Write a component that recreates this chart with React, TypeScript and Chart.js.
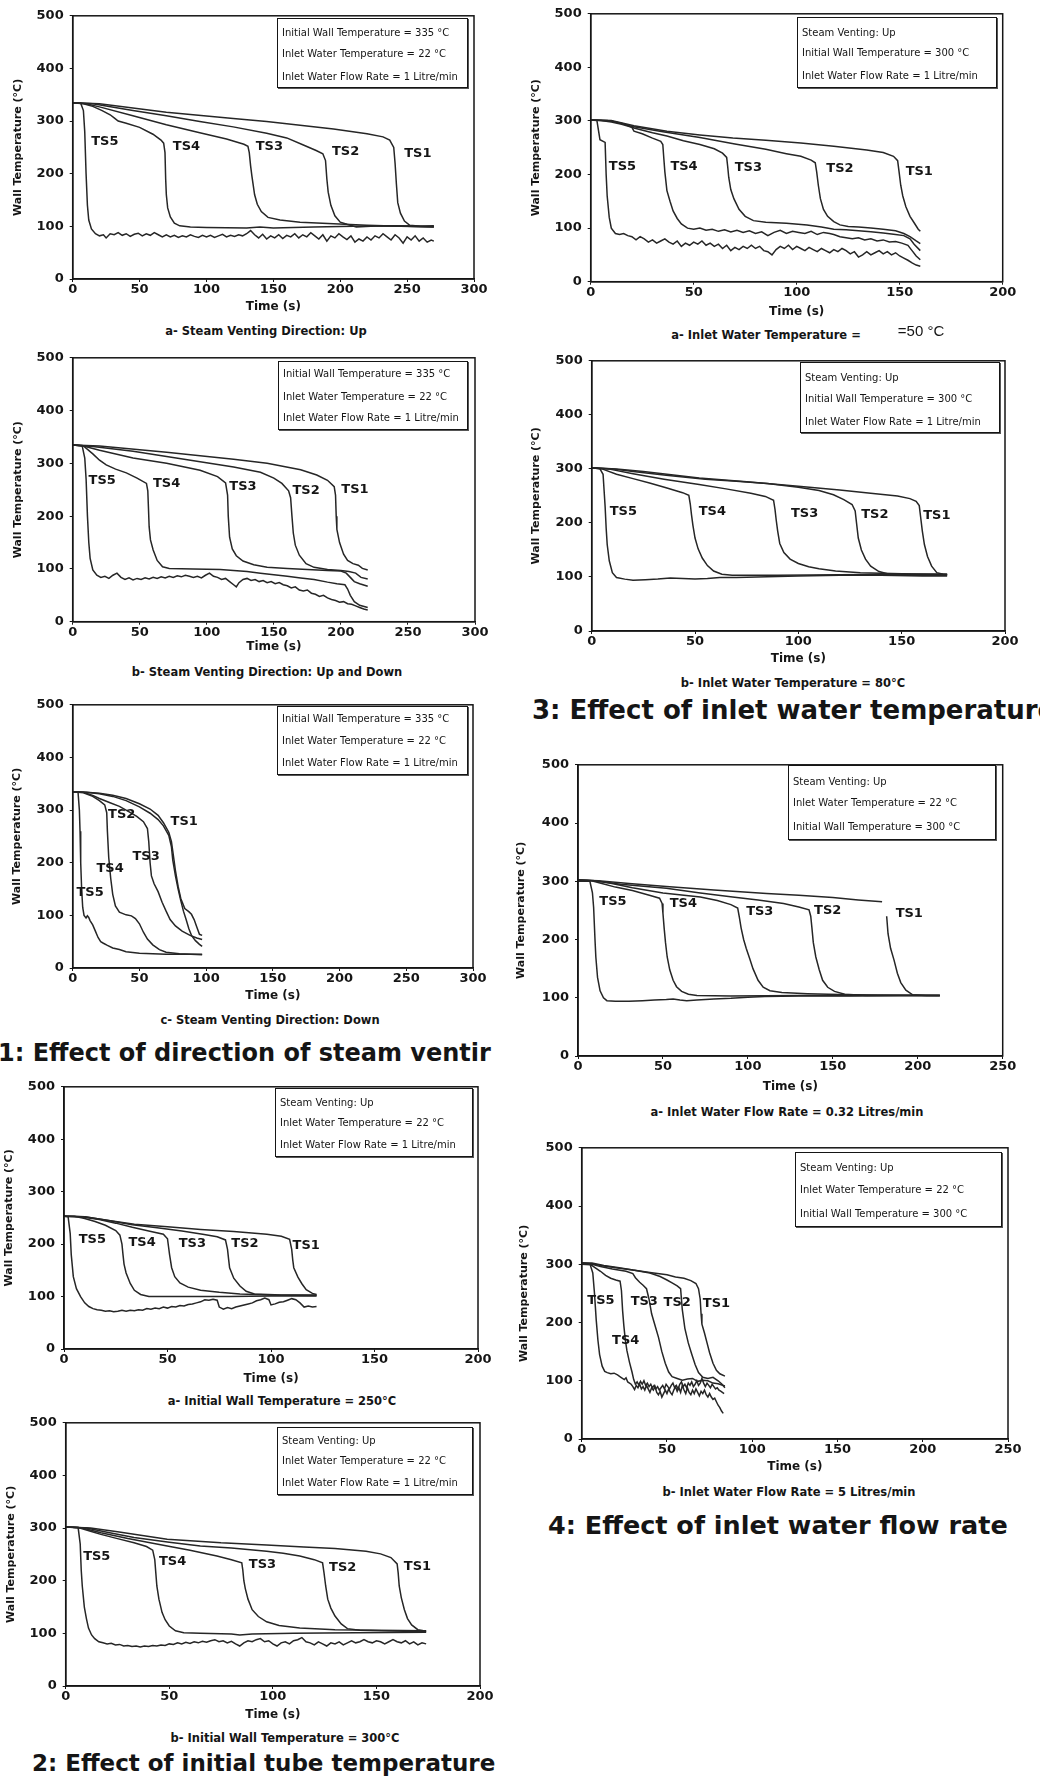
import React, { useEffect, useRef } from "react";
import { Chart, registerables } from "chart.js";

Chart.register(...registerables);

type Pt = [number, number | null];
type Label = [string, number, number];

const Y_TICKS = [0, 100, 200, 300, 400, 500];

// ---------- Fig. 1a  steam venting up ----------
const f1a_ts1: Pt[] = [[0,335],[20,333],[70,317],[120,305],[145,299],[195,285],[220,276],[232,270],[237,264],[240,250],[241,220],[242,180],[243,145],[245,125],[248,110],[252,102],[260,100],[270,101]];
const f1a_ts2: Pt[] = [[0,335],[15,333],[45,320],[70,310],[95,299],[120,289],[145,277],[160,268],[172,255],[182,244],[187,238],[189,225],[190,190],[191,165],[193,140],[196,120],[200,108],[205,104],[212,99],[230,101],[250,100],[270,99]];
const f1a_ts3: Pt[] = [[0,335],[10,333],[20,327],[45,310],[70,293],[95,278],[115,266],[128,256],[131,252],[132,240],[133,215],[134,195],[136,160],[138,142],[141,128],[146,117],[155,112],[170,108],[195,105],[220,102],[245,100],[270,99]];
const f1a_ts4: Pt[] = [[0,335],[8,333],[15,328],[22,320],[28,312],[31,306],[34,300],[40,296],[50,288],[60,275],[66,264],[68,258],[69,240],[69.5,190],[70,160],[71,135],[73,118],[76,106],[80,101],[88,99],[100,98],[130,97],[140,99],[150,97],[180,99],[210,100],[240,101],[270,100]];
const f1a_ts5: Pt[] = [[0,335],[6,334],[8,320],[9,280],[10,200],[11,140],[12,112],[14,95],[17,86],[20,82],[23,84],[25,78],[28,86],[31,84],[34,88],[37,83],[40,86],[43,81],[46,85],[49,87],[52,82],[55,86],[58,83],[61,88],[64,84],[67,80],[70,84],[73,80],[76,83],[79,79],[82,82],[85,80],[88,84],[91,81],[94,79],[97,83],[100,80],[103,83],[106,79],[109,82],[112,85],[115,80],[118,83],[121,81],[124,84],[127,82],[130,86],[133,92],[136,84],[139,78],[142,85],[145,76],[148,82],[151,78],[154,84],[157,77],[160,83],[163,80],[166,86],[169,78],[172,84],[175,80],[178,88],[181,82],[184,76],[187,84],[190,72],[193,82],[196,78],[199,86],[202,80],[205,75],[208,82],[211,70],[214,76],[217,72],[220,80],[223,74],[226,82],[229,78],[232,86],[235,80],[238,74],[241,84],[244,78],[247,68],[250,80],[253,74],[256,82],[259,72],[262,78],[265,70],[268,74],[270,72]];
const f1a_labels: Label[] = [["TS5",24,261],["TS4",85,251],["TS3",147,251],["TS2",204,242],["TS1",258,239]];

// ---------- Fig. 1b  steam venting up and down ----------
const f1b_ts1: Pt[] = [[0,335],[20,333],[70,321],[120,308],[145,300],[170,288],[182,278],[190,268],[195,256],[196,240],[196.5,200],[197,175],[199,150],[202,128],[205,116],[209,110],[213,107],[216,101],[220,98]];
const f1b_ts2: Pt[] = [[0,335],[15,332],[45,323],[70,313],[95,303],[120,293],[140,283],[150,272],[156,262],[161,248],[162.5,235],[163.5,200],[164.5,168],[166,145],[169,126],[174,110],[180,103],[190,99],[200,97],[206,95],[211,92],[215,84],[220,81]];
const f1b_ts3: Pt[] = [[0,335],[8,333],[20,325],[45,310],[70,300],[95,287],[108,275],[114,263],[115.5,240],[116,200],[117,160],[119,138],[122,125],[127,115],[135,108],[145,103],[160,101],[175,99],[190,97],[200,96],[204,92],[207,84],[210,76],[214,72],[220,67]];
const f1b_ts4: Pt[] = [[0,335],[8,333],[15,318],[20,306],[25,297],[32,289],[40,282],[48,272],[55,262],[56,248],[56.5,215],[57,180],[58,155],[60,136],[63,116],[67,104],[72,101],[90,100],[110,99],[120,97],[130,95],[140,92],[150,89],[160,86],[170,83],[180,80],[190,75],[197,72],[203,70],[205,62],[207,50],[210,38],[214,31],[220,27]];
const f1b_ts5: Pt[] = [[0,335],[7,334],[9,310],[10,270],[11,200],[12,150],[13,120],[15,98],[18,88],[21,84],[24,86],[27,82],[30,88],[33,92],[36,84],[39,80],[42,83],[45,79],[48,82],[51,80],[54,83],[57,81],[60,84],[63,82],[66,85],[69,83],[72,86],[75,84],[78,87],[81,85],[84,88],[87,86],[90,84],[93,86],[96,83],[99,88],[102,92],[105,86],[108,84],[111,80],[114,82],[117,76],[120,70],[122,66],[124,74],[127,80],[130,82],[133,78],[136,80],[139,76],[142,78],[145,74],[148,76],[151,72],[154,74],[157,70],[160,68],[163,64],[166,66],[169,60],[172,58],[175,60],[178,54],[181,52],[184,48],[187,50],[190,45],[193,42],[196,40],[199,37],[202,38],[205,34],[208,33],[211,30],[214,27],[217,24],[220,22]];
const f1b_labels: Label[] = [["TS5",22,267],["TS4",70,261],["TS3",127,255],["TS2",174,248],["TS1",210.5,250]];

// ---------- Fig. 1c  steam venting down ----------
const f1c_ts1: Pt[] = [[0,335],[10,334],[20,332],[30,328],[40,322],[50,312],[58,302],[64,290],[68,276],[72,258],[74,240],[75,222],[77,185],[79,155],[81,132],[84,113],[87,107],[89,102],[91,92],[93,78],[95,64],[97,62]];
const f1c_ts2: Pt[] = [[0,335],[10,334],[20,331],[30,326],[40,318],[50,306],[58,294],[64,282],[68,270],[72,252],[74,230],[75,205],[77,175],[79,150],[81,128],[83,108],[85,92],[87,75],[89,62],[92,52],[95,45],[97,41]];
const f1c_ts3: Pt[] = [[0,335],[8,334],[15,328],[20,322],[28,314],[35,307],[42,297],[48,288],[53,278],[56,265],[57,240],[58,200],[59,175],[61,160],[64,145],[67,125],[70,108],[73,92],[77,80],[82,70],[88,62],[93,57],[97,54]];
const f1c_ts4: Pt[] = [[0,335],[8,333],[15,326],[20,318],[24,310],[25.5,295],[26,260],[27,210],[28.5,170],[30,140],[32,118],[35,106],[40,101],[44,99],[47,94],[50,84],[53,68],[56,55],[60,44],[65,35],[70,30],[80,27],[97,25]];
const f1c_ts5: Pt[] = [[0,335],[4,334],[5,300],[5.5,260],[6,200],[6.7,150],[7.5,115],[8.5,100],[10,95],[11,99],[12,96],[13,90],[15,82],[17,70],[19,58],[21,50],[23,47],[26,43],[30,38],[35,35],[40,31],[50,28],[60,27],[70,26],[85,26],[97,26]];
const f1c_labels: Label[] = [["TS2",36.7,292],["TS1",83.6,278],["TS3",55,212],["TS4",28,188],["TS5",13,144]];

// ---------- Fig. 2a  initial wall temperature 250 ----------
const f2a_ts1: Pt[] = [[0,253],[10,252],[20,246],[34,238],[50,233],[66,228],[82,224],[98,219],[105,215],[109,209],[110,190],[110.5,170],[111,155],[113,137],[115,124],[117,113],[120,106],[122,104]];
const f2a_ts2: Pt[] = [[0,253],[10,252],[20,246],[33,237],[45,231],[57,225],[67,219],[74,214],[78,208],[79,190],[79.5,172],[80,155],[82,135],[85,120],[88,110],[92,105],[105,103],[122,103]];
const f2a_ts3: Pt[] = [[0,253],[8,252],[17,247],[25,240],[33,232],[42,224],[48,219],[50,210],[50.5,195],[51,180],[52,155],[53.5,138],[56,126],[60,118],[66,112],[75,108],[85,105],[100,103],[122,102]];
const f2a_ts4: Pt[] = [[0,253],[5,253],[10,249],[15,243],[20,236],[25,226],[27,217],[28,200],[28.5,180],[29,162],[30,145],[32,125],[34,112],[37,104],[41,100],[60,100],[80,100],[100,101],[122,101]];
const f2a_ts5: Pt[] = [[0,253],[2,252],[3,220],[3.5,180],[4.5,138],[6,115],[8,100],[10,88],[12,81],[14,77],[16,75],[18,74],[20,72],[22,73],[24,71],[26,72],[28,74],[30,72],[32,74],[34,73],[36,75],[38,74],[40,77],[42,76],[44,78],[46,77],[48,80],[50,78],[52,81],[54,80],[56,83],[58,82],[60,85],[62,86],[64,88],[66,90],[68,94],[70,93],[72,95],[74,93],[75,80],[77,76],[79,79],[81,77],[83,80],[85,82],[87,84],[89,86],[91,88],[93,92],[95,94],[97,97],[99,94],[100,84],[102,86],[104,89],[106,90],[108,93],[110,96],[112,94],[114,88],[116,80],[118,82],[120,80],[122,81]];
const f2a_labels: Label[] = [["TS5",13.7,209],["TS4",37.7,203],["TS3",62,200],["TS2",87.4,200],["TS1",117,197]];

// ---------- Fig. 2b  initial wall temperature 300 ----------
const f2b_ts1: Pt[] = [[0,302],[12,300],[25,293],[49,279],[75,272],[97,268],[115,264],[130,261],[145,256],[152,251],[157,244],[160,232],[160.5,215],[161,190],[162,168],[163.5,145],[165,128],[167,116],[170,107],[174,104]];
const f2b_ts2: Pt[] = [[0,302],[10,300],[20,292],[33,282],[50,273],[65,266],[80,262],[97,256],[105,252],[113,247],[120,240],[124,234],[124.7,215],[125.5,190],[126.5,165],[128,148],[130,133],[133,118],[136,109],[142,106],[174,103]];
const f2b_ts3: Pt[] = [[0,302],[8,300],[17,291],[30,280],[49,266],[60,258],[73,247],[80,240],[85,234],[85.5,220],[86,200],[86.7,185],[88,165],[90,145],[93,132],[97,122],[103,115],[113,110],[130,107],[150,106],[174,105]];
const f2b_ts4: Pt[] = [[0,302],[6,301],[12,294],[17,288],[25,280],[33,272],[39,265],[42,258],[43,240],[43.5,215],[44,190],[45,165],[46.5,140],[48,126],[50,114],[53,105],[57,101],[65,100],[80,99],[84,97],[90,99],[110,100],[140,101],[174,102]];
const f2b_ts5: Pt[] = [[0,302],[6,301],[7,270],[7.5,220],[8,190],[9,150],[10,128],[11,110],[12.5,97],[14,90],[16,84],[18,82],[20,80],[22,81],[24,78],[26,79],[28,76],[30,77],[32,75],[34,76],[36,74],[38,76],[40,75],[42,77],[44,76],[46,78],[48,77],[50,80],[52,79],[54,82],[56,80],[58,83],[60,81],[62,84],[64,82],[66,85],[68,83],[70,86],[72,88],[74,84],[76,86],[78,82],[80,85],[82,80],[84,76],[86,82],[88,86],[90,84],[92,88],[94,90],[96,84],[98,86],[100,80],[102,76],[104,82],[106,84],[108,80],[110,86],[112,88],[114,92],[116,84],[118,82],[120,78],[122,84],[124,80],[126,76],[128,82],[130,80],[132,84],[134,78],[136,82],[138,86],[140,82],[142,84],[144,88],[146,84],[148,82],[150,86],[152,84],[154,80],[156,84],[158,88],[160,84],[162,82],[164,86],[166,80],[168,84],[170,78],[172,82],[174,80]];
const f2b_labels: Label[] = [["TS5",15,246],["TS4",51.6,237],["TS3",95,230.5],["TS2",133.7,224],["TS1",169.8,226]];

// ---------- Fig. 3a  inlet water temperature 50 ----------
const f3a_ts1: Pt[] = [[0,302],[10,301],[21,291],[37,281],[53,274],[69,268],[85,264],[102,259],[118,253],[134,246],[142,241],[147,234],[149,226],[149.7,205],[150.5,180],[151.5,160],[153,140],[155,122],[157,110],[159,98],[160,94]];
const f3a_ts2: Pt[] = [[0,302],[10,300],[21,289],[35,280],[53,269],[70,257],[85,247],[95,239],[102,234],[107,227],[109,222],[109.7,205],[110.5,180],[111.5,155],[113,135],[115,122],[118,112],[121,106],[125,103],[130,102],[136,100],[142,98],[148,95],[152,90],[155,84],[158,76],[160,71]];
const f3a_ts3: Pt[] = [[0,302],[8,301],[15,296],[21,287],[30,278],[37,272],[45,263],[53,256],[60,248],[64,240],[66,232],[66.5,215],[67,195],[68,172],[69.5,155],[72,135],[75,122],[79,114],[85,111],[95,109],[105,106],[112,102],[118,98],[124,97],[130,95],[136,93],[142,91],[148,88],[152,86],[155,80],[157,70],[160,58]];
const f3a_ts4: Pt[] = [[0,302],[5,301],[10,298],[15,294],[20,288],[21,281],[25,276],[30,268],[34,262],[35,256],[35.5,230],[36,205],[37,170],[38.5,150],[40,132],[42,118],[44,108],[47,100],[50,98],[53,100],[56,96],[59,98],[62,94],[65,97],[68,93],[71,96],[74,92],[77,95],[80,90],[83,93],[86,86],[89,92],[92,96],[95,90],[98,94],[101,92],[104,90],[107,94],[110,88],[113,92],[116,90],[118,88],[121,84],[124,82],[127,80],[130,82],[133,78],[136,80],[139,76],[142,78],[145,74],[148,75],[151,72],[154,68],[156,58],[158,48],[160,41]];
const f3a_ts5: Pt[] = [[0,302],[3,301],[4.5,265],[7,260],[7.5,200],[8,160],[9,120],[10,100],[12,90],[14,88],[16,90],[18,86],[20,84],[22,78],[24,84],[26,80],[28,74],[30,78],[32,72],[34,76],[36,80],[38,74],[40,70],[42,76],[44,66],[46,72],[48,68],[50,74],[52,70],[54,76],[56,68],[58,72],[60,66],[62,70],[64,62],[66,68],[68,58],[70,64],[72,60],[74,66],[76,62],[78,68],[80,62],[82,66],[84,58],[86,56],[88,50],[90,60],[92,66],[94,62],[96,68],[98,60],[100,66],[102,62],[104,58],[106,64],[108,60],[110,56],[112,62],[114,58],[116,54],[118,60],[120,56],[122,62],[124,58],[126,52],[128,56],[130,46],[132,50],[134,56],[136,50],[138,54],[140,58],[142,52],[144,56],[146,50],[148,54],[150,48],[152,44],[154,40],[156,35],[158,31],[160,29]];
const f3a_labels: Label[] = [["TS5",15.4,215],["TS4",45.3,214],["TS3",76.5,213],["TS2",121,211],["TS1",159.5,205]];

// ---------- Fig. 3b  inlet water temperature 80 ----------
const f3b_ts1: Pt[] = [[0,302],[12,300],[25,295],[52,283],[75,276],[100,268],[120,261],[135,255],[148,250],[154,245],[157,240],[158.5,232],[159.2,210],[160,185],[161,160],[162.5,138],[164.5,120],[167,108],[170,105],[172,104]];
const f3b_ts2: Pt[] = [[0,302],[10,300],[20,295],[36,288],[55,281],[70,277],[85,273],[100,266],[110,260],[117,252],[122,243],[126,234],[127.5,222],[128,205],[129,172],[130.5,150],[132.5,133],[135,120],[139,110],[144,105],[155,103],[172,103]];
const f3b_ts3: Pt[] = [[0,302],[8,300],[20,291],[35,281],[52,271],[65,263],[77,255],[84,249],[88,242],[88.7,225],[89.3,205],[90,185],[91,162],[93,145],[96,133],[100,125],[105,119],[110,115],[118,111],[130,108],[150,106],[172,105]];
const f3b_ts4: Pt[] = [[0,302],[5,300],[12,290],[20,282],[28,274],[36,265],[44,256],[47,251],[47.7,235],[48.3,215],[49,195],[50,172],[51.5,152],[53.5,135],[56,121],[59,111],[63,105],[68,103],[90,103],[120,104],[150,105],[172,105]];
const f3b_ts5: Pt[] = [[0,302],[4,300],[5.5,290],[6,260],[6.5,230],[7,190],[7.5,160],[8.5,130],[10,108],[12,99],[16,96],[20,94],[26,95],[32,96],[38,98],[44,97],[50,96],[56,97],[62,99],[70,99],[80,100],[90,101],[100,102],[120,103],[140,103],[160,102],[172,102]];
const f3b_labels: Label[] = [["TS5",15.3,221],["TS4",58.4,221],["TS3",103,217],["TS2",137,215],["TS1",167,213]];

// ---------- Fig. 4a  inlet flow 0.32 l/min ----------
const f4a_ts1: Pt[] = [[0,302],[12,301],[30,296],[52,291],[80,285],[111,279],[130,276],[150,272],[165,268],[179,265],[180,null],[181.7,240],[182.5,210],[184,185],[186,165],[188,142],[190,126],[193,113],[197,105],[205,104],[213,104]];
const f4a_ts2: Pt[] = [[0,302],[10,301],[25,295],[52,288],[72,280],[91,273],[106,268],[121,262],[130,256],[136,251],[137,240],[137.7,220],[138.5,195],[140,170],[142,148],[144,130],[147,118],[151,111],[157,106],[170,104],[213,104]];
const f4a_ts3: Pt[] = [[0,302],[10,301],[20,296],[32,289],[50,280],[72,273],[82,267],[90,260],[94,254],[95,238],[96,220],[97.5,200],[99,185],[101,168],[103,150],[106,130],[109,118],[113,112],[120,109],[135,107],[160,105],[213,104]];
const f4a_ts4: Pt[] = [[0,302],[8,301],[13,297],[22,290],[32,284],[42,276],[48,271],[49.5,262],[50,245],[50.7,220],[51.5,195],[52.5,170],[54,148],[56,130],[58,119],[61,111],[65,106],[70,104],[90,103],[130,104],[213,104]];
const f4a_ts5: Pt[] = [[0,300],[7,300],[8.5,280],[9.2,255],[10,200],[10.5,170],[11.5,135],[13,112],[15,100],[17,95],[22,94],[30,94],[38,95],[45,96],[52,97],[56,98],[60,96],[64,95],[70,96],[80,98],[90,99],[100,101],[110,102],[130,103],[160,103],[190,104],[213,104]];
const f4a_labels: Label[] = [["TS5",20.6,265],["TS4",62,261],["TS3",107,248],["TS2",147,250],["TS1",195,245]];

// ---------- Fig. 4b  inlet flow 5 l/min ----------
const f4b_ts1: Pt[] = [[0,302],[6,302],[13,298],[22,294],[30,290],[40,286],[50,282],[55,278],[60,276],[64,272],[67,267],[68.5,258],[69.5,240],[70,215],[70.5,197],[72,182],[73.5,165],[75,148],[77,130],[79,118],[81,112],[84,108]];
const f4b_ts2: Pt[] = [[0,302],[6,301],[13,297],[22,293],[30,290],[40,285],[46,279],[50,273],[53,268],[56,263],[58,258],[58.5,240],[59,222],[60.5,190],[62.5,165],[64.5,146],[66.5,128],[68.5,114],[71,106],[74,104],[77,106],[80,100],[82,95],[84,88]];
const f4b_ts3: Pt[] = [[0,302],[5,301],[11,296],[18,292],[26,288],[30,284],[31.5,277],[34,269],[36,264],[38,258],[39.5,240],[41,215],[43,195],[45,175],[47,150],[49,130],[51,115],[53,107],[56,104],[59,101],[62,103],[65,104],[68,99],[71,101],[74,100],[77,96],[80,95],[84,91]];
const f4b_ts4: Pt[] = [[0,302],[5,300],[8,294],[11,288],[14,281],[17,276],[20,273],[22.5,271],[23.3,255],[24,220],[24.7,195],[25.5,172],[26.5,152],[28,132],[29.5,115],[30.5,102],[31.5,94],[32.5,98],[33.5,93],[34.5,99],[35.5,94],[36.5,100],[37.5,92],[38.5,96],[39.5,90],[40.5,94],[41.5,88],[42.5,92],[43.5,86],[44.5,90],[45.5,84],[46.5,88],[47.5,92],[48.5,86],[49.5,94],[50.5,90],[51.5,86],[52.5,92],[53.5,96],[54.5,88],[55.5,92],[56.5,86],[57.5,94],[58.5,98],[59.5,90],[60.5,94],[61.5,88],[62.5,96],[63.5,92],[64.5,98],[65.5,90],[66.5,94],[67.5,100],[68.5,92],[69.5,96],[70.5,104],[71.5,96],[72.5,90],[73.5,96],[74.5,92],[75.5,88],[76.5,94],[77.5,90],[78.5,86],[79.5,88],[80.5,84],[81.5,82],[82.5,80],[83.5,78]];
const f4b_ts5: Pt[] = [[0,300],[5,299],[6.5,285],[7.5,250],[8.5,205],[9.5,170],[10.5,145],[12,125],[13.5,116],[15,114],[17,112],[19,113],[21,110],[23,106],[25,102],[26,105],[27,98],[29,94],[30,90],[31,85],[32,92],[33,88],[34,94],[35,86],[36,90],[37,84],[38,92],[39,86],[40,80],[41,88],[42,84],[43,90],[44,80],[45,76],[46,82],[47,72],[48,78],[49,84],[50,78],[51,86],[52,80],[53,76],[54,84],[55,90],[56,82],[57,88],[58,80],[59,92],[60,84],[61,78],[62,88],[63,80],[64,76],[65,84],[66,78],[67,86],[68,80],[69,74],[70,82],[71,78],[72,84],[73,76],[74,72],[75,78],[76,72],[77,68],[78,70],[79,64],[80,58],[81,54],[82,48],[83,44]];
const f4b_labels: Label[] = [["TS5",11.3,238],["TS3",36.7,235.5],["TS2",56,234],["TS1",79,233],["TS4",25.8,169]];

// ---------- layout of the sheet ----------
interface PanelSpec {
  key: string;
  xMax: number;
  series: Pt[][];
  labels: Label[];
  plot: { l: number; t: number; r: number; b: number };
  yTitleX: number;
  timeY: number;
}

const PANELS: PanelSpec[] = [
  { key: "1a", xMax: 300, series: [f1a_ts1, f1a_ts2, f1a_ts3, f1a_ts4, f1a_ts5], labels: f1a_labels, plot: { l: 72.7, t: 12.7, r: 474, b: 279 }, yTitleX: 19, timeY: 307 },
  { key: "1b", xMax: 300, series: [f1b_ts1, f1b_ts2, f1b_ts3, f1b_ts4, f1b_ts5], labels: f1b_labels, plot: { l: 72.7, t: 355, r: 475, b: 621.7 }, yTitleX: 19, timeY: 647 },
  { key: "1c", xMax: 300, series: [f1c_ts1, f1c_ts2, f1c_ts3, f1c_ts4, f1c_ts5], labels: f1c_labels, plot: { l: 72.7, t: 701.7, r: 473, b: 968 }, yTitleX: 18, timeY: 996 },
  { key: "2a", xMax: 200, series: [f2a_ts1, f2a_ts2, f2a_ts3, f2a_ts4, f2a_ts5], labels: f2a_labels, plot: { l: 64, t: 1084, r: 478, b: 1349 }, yTitleX: 10, timeY: 1379 },
  { key: "2b", xMax: 200, series: [f2b_ts1, f2b_ts2, f2b_ts3, f2b_ts4, f2b_ts5], labels: f2b_labels, plot: { l: 65.7, t: 1420, r: 480, b: 1686 }, yTitleX: 12, timeY: 1715 },
  { key: "3a", xMax: 200, series: [f3a_ts1, f3a_ts2, f3a_ts3, f3a_ts4, f3a_ts5], labels: f3a_labels, plot: { l: 590.7, t: 10.7, r: 1002.7, b: 281.7 }, yTitleX: 537, timeY: 311.7 },
  { key: "3b", xMax: 200, series: [f3b_ts1, f3b_ts2, f3b_ts3, f3b_ts4, f3b_ts5], labels: f3b_labels, plot: { l: 591.7, t: 357.7, r: 1005, b: 631 }, yTitleX: 537, timeY: 659 },
  { key: "4a", xMax: 250, series: [f4a_ts1, f4a_ts2, f4a_ts3, f4a_ts4, f4a_ts5], labels: f4a_labels, plot: { l: 578, t: 761.7, r: 1002.7, b: 1056 }, yTitleX: 522, timeY: 1086.7 },
  { key: "4b", xMax: 250, series: [f4b_ts1, f4b_ts2, f4b_ts3, f4b_ts4, f4b_ts5], labels: f4b_labels, plot: { l: 581.7, t: 1145, r: 1008, b: 1439 }, yTitleX: 525, timeY: 1466.7 },
];

const LEGEND_335 = ["Initial Wall Temperature = 335 \u00B0C", "Inlet Water Temperature = 22 \u00B0C", "Inlet Water Flow Rate = 1 Litre/min"];
const LEGEND_VENT_FLOW = ["Steam Venting: Up", "Inlet Water Temperature = 22 \u00B0C", "Inlet Water Flow Rate = 1 Litre/min"];
const LEGEND_VENT_WALL = ["Steam Venting: Up", "Initial Wall Temperature = 300 \u00B0C", "Inlet Water Flow Rate = 1 Litre/min"];
const LEGEND_VENT_INLET = ["Steam Venting: Up", "Inlet Water Temperature = 22 \u00B0C", "Initial Wall Temperature = 300 \u00B0C"];

interface LegendBox { l: number; t: number; r: number; b: number; rows: number[]; lines: string[] }
const LEGENDS: LegendBox[] = [
  { l: 277, t: 18, r: 468, b: 88, rows: [33, 54, 77], lines: LEGEND_335 },
  { l: 278, t: 361, r: 468, b: 430, rows: [374, 397, 418], lines: LEGEND_335 },
  { l: 277, t: 706, r: 468, b: 775, rows: [719, 741, 763], lines: LEGEND_335 },
  { l: 275, t: 1088, r: 473, b: 1157, rows: [1103, 1123, 1145], lines: LEGEND_VENT_FLOW },
  { l: 277, t: 1427, r: 473, b: 1495, rows: [1441, 1461, 1483], lines: LEGEND_VENT_FLOW },
  { l: 797, t: 17, r: 997, b: 88, rows: [33, 53, 76], lines: LEGEND_VENT_WALL },
  { l: 800, t: 362, r: 1000, b: 433, rows: [378, 399, 422], lines: LEGEND_VENT_WALL },
  { l: 788, t: 765, r: 996, b: 840, rows: [782, 803, 827], lines: LEGEND_VENT_INLET },
  { l: 795, t: 1152, r: 1002, b: 1227, rows: [1168, 1190, 1214], lines: LEGEND_VENT_INLET },
];

const CAPTIONS: [string, number, number][] = [
  ["a- Steam Venting Direction: Up", 266, 331],
  ["b- Steam Venting Direction: Up and Down", 267, 672],
  ["c- Steam Venting Direction: Down", 270, 1020],
  ["a- Initial Wall Temperature = 250\u00B0C", 282, 1401],
  ["b- Initial Wall Temperature = 300\u00B0C", 285, 1738],
  ["a- Inlet Water Temperature =", 766, 335],
  ["b- Inlet Water Temperature = 80\u00B0C", 793, 683],
  ["a- Inlet Water Flow Rate = 0.32 Litres/min", 787, 1112],
  ["b- Inlet Water Flow Rate = 5 Litres/min", 789, 1492],
];

// text, left edge, vertical centre, font size
const HEADINGS: [string, number, number, number][] = [
  ["1: Effect of direction of steam ventir", -2, 1053, 24],
  ["2: Effect of initial tube temperature", 32, 1763, 23],
  ["3: Effect of inlet water temperature", 532, 710, 26],
  ["4: Effect of inlet water flow rate", 548, 1525, 25.5],
];

const INK = "#151515";
const LINE = "#262626";

const framePlugin = {
  id: "frame",
  afterDraw(chart: any) {
    const { ctx, chartArea } = chart;
    ctx.save();
    ctx.strokeStyle = INK;
    ctx.lineWidth = 1.5;
    ctx.strokeRect(chartArea.left, chartArea.top, chartArea.right - chartArea.left, chartArea.bottom - chartArea.top);
    ctx.restore();
  },
};

function labelPlugin(items: Label[]) {
  return {
    id: "tsLabels",
    afterDatasetsDraw(chart: any) {
      const { ctx, scales } = chart;
      ctx.save();
      ctx.font = 'bold 13px "DejaVu Sans"';
      ctx.fillStyle = INK;
      ctx.textAlign = "center";
      ctx.textBaseline = "middle";
      for (const [txt, x, y] of items) {
        ctx.fillText(txt, scales.x.getPixelForValue(x), scales.y.getPixelForValue(y));
      }
      ctx.restore();
    },
  };
}

function PanelChart({ p }: { p: PanelSpec }) {
  const ref = useRef<HTMLCanvasElement | null>(null);
  const cl = Math.round(p.yTitleX - 6.6);
  const ct = Math.max(0, Math.round(p.plot.t - 11));
  const cr = Math.round(p.plot.r + 24);
  const cb = Math.round(p.timeY + 7.2);
  const w = cr - cl;
  const h = cb - ct;

  useEffect(() => {
    const canvas = ref.current;
    if (!canvas) return;
    const yWidth = p.plot.l - cl;
    const xHeight = cb - p.plot.b;
    const tickFont = { family: "DejaVu Sans", weight: "bold" as const, size: 13 };
    const chart = new Chart(canvas, {
      type: "line",
      data: {
        datasets: p.series.map((s, i) => ({
          label: "TS" + (i + 1),
          data: s.map(([x, y]) => ({ x, y })),
          borderColor: LINE,
          borderWidth: 1.5,
          pointRadius: 0,
          tension: 0,
          fill: false,
          spanGaps: false,
        })),
      },
      options: {
        animation: false,
        responsive: false,
        maintainAspectRatio: false,
        events: [],
        layout: { padding: { left: 0, top: p.plot.t - ct, right: cr - p.plot.r, bottom: 0 } },
        plugins: { legend: { display: false }, tooltip: { enabled: false }, title: { display: false } },
        scales: {
          x: {
            type: "linear",
            min: 0,
            max: p.xMax,
            ticks: { stepSize: 50, autoSkip: false, maxRotation: 0, padding: 0, color: INK, font: tickFont },
            grid: { display: true, drawOnChartArea: false, tickLength: 3, color: INK },
            border: { display: true, color: INK, width: 1.5 },
            title: { display: true, text: "Time (s)", color: INK, padding: 0, font: { family: "DejaVu Sans", weight: "bold", size: 12 } },
            afterFit: (s: any) => { s.height = xHeight; },
          },
          y: {
            type: "linear",
            min: 0,
            max: 500,
            afterBuildTicks: (s: any) => { s.ticks = Y_TICKS.map((v) => ({ value: v })); },
            ticks: { padding: 6, color: INK, font: tickFont },
            grid: { display: true, drawOnChartArea: false, tickLength: 3, color: INK },
            border: { display: true, color: INK, width: 1.5 },
            title: { display: true, text: "Wall Temperature (\u00B0C)", color: INK, padding: 0, font: { family: "DejaVu Sans", weight: "bold", size: 11 } },
            afterFit: (s: any) => { s.width = yWidth; },
          },
        },
      } as any,
      plugins: [framePlugin, labelPlugin(p.labels)],
    });
    return () => chart.destroy();
  }, []);

  return (
    <canvas
      ref={ref}
      width={w}
      height={h}
      style={{ position: "absolute", left: cl, top: ct, width: w, height: h }}
    />
  );
}

export default function App() {
  return (
    <div
      style={{
        position: "absolute",
        left: 0,
        top: 0,
        width: 1040,
        height: 1779,
        overflow: "hidden",
        background: "#ffffff",
        color: INK,
      }}
    >
      {PANELS.map((p) => (
        <PanelChart key={p.key} p={p} />
      ))}
      {LEGENDS.map((lg, i) => (
        <div key={"lg" + i}>
          <div
            style={{
              position: "absolute",
              left: lg.l,
              top: lg.t,
              width: lg.r - lg.l,
              height: lg.b - lg.t,
              boxSizing: "border-box",
              border: "1.5px solid " + INK,
              boxShadow: "1px 1px 0 #555",
              background: "#fff",
            }}
          />
          {lg.lines.map((txt, j) => (
            <div
              key={j}
              style={{
                position: "absolute",
                left: lg.l + 5,
                top: lg.rows[j] - 7,
                height: 14,
                lineHeight: "14px",
                whiteSpace: "nowrap",
                fontFamily: '"DejaVu Sans", sans-serif',
                fontSize: "10px",
              }}
            >
              {txt}
            </div>
          ))}
        </div>
      ))}
      {CAPTIONS.map(([txt, x, y], i) => (
        <div
          key={"cap" + i}
          style={{
            position: "absolute",
            left: x,
            top: y,
            transform: "translate(-50%, -50%)",
            whiteSpace: "nowrap",
            fontFamily: '"DejaVu Sans", sans-serif',
            fontWeight: "bold",
            fontSize: "11.5px",
          }}
        >
          {txt}
        </div>
      ))}
      <div
        style={{
          position: "absolute",
          left: 921,
          top: 330,
          transform: "translate(-50%, -50%)",
          whiteSpace: "nowrap",
          fontFamily: '"Liberation Sans", Arial, sans-serif',
          fontSize: "15px",
        }}
      >
        =50 °C
      </div>
      {HEADINGS.map(([txt, x, y, size], i) => (
        <div
          key={"hd" + i}
          style={{
            position: "absolute",
            left: x,
            top: y,
            transform: "translateY(-50%)",
            whiteSpace: "nowrap",
            fontFamily: '"DejaVu Sans", sans-serif',
            fontWeight: "bold",
            fontSize: size + "px",
          }}
        >
          {txt}
        </div>
      ))}
    </div>
  );
}
